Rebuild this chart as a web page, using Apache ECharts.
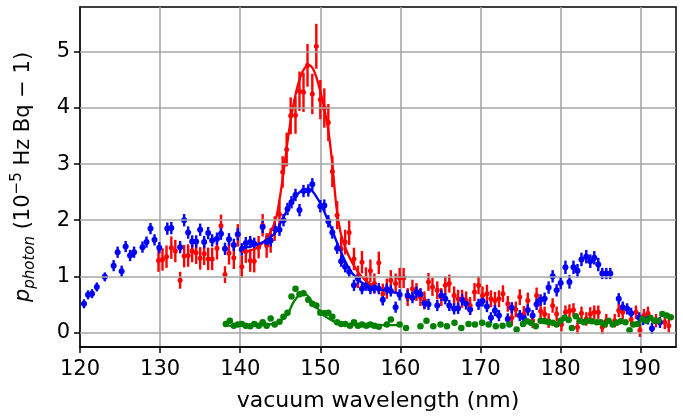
<!DOCTYPE html>
<html><head><meta charset="utf-8">
<script src="https://cdn.jsdelivr.net/npm/echarts@6/dist/echarts.min.js"></script>
<style>html,body{margin:0;padding:0;background:#fff}#c{width:683px;height:416px}</style>
</head><body><div id="c"></div>
<script>
// x tick labels and y tick labels
const xTicks = [120,130,140,150,160,170,180,190];
const yTicks = [0,1,2,3,4,5];

// blue measurements [wavelength, value, error]
const blueData = [
[120.5,0.51,0.08],[121.0,0.67,0.08],[121.5,0.69,0.08],[122.1,0.81,0.08],[123.1,0.99,0.08],[124.2,1.19,0.1],[124.7,1.43,0.1],[125.2,1.09,0.1],[125.7,1.53,0.1],[126.25,1.37,0.1],[126.75,1.43,0.1],[127.8,1.52,0.1],[128.3,1.61,0.1],[128.8,1.85,0.1],[129.3,1.65,0.1],[129.9,1.51,0.1],[130.9,1.85,0.11],[131.4,1.86,0.11],[132.5,1.52,0.11],[133.0,2.0,0.11],[133.5,1.78,0.11],[134.0,1.62,0.11],[134.5,1.62,0.11],[135.0,1.83,0.11],[135.5,1.61,0.11],[136.0,1.77,0.11],[136.5,1.64,0.11],[137.1,1.67,0.11],[137.6,1.76,0.11],[138.1,1.49,0.11],[138.6,1.66,0.11],[139.2,1.56,0.11],[139.7,1.75,0.11],[140.2,1.48,0.11],[140.7,1.59,0.11],[141.25,1.61,0.11],[141.75,1.58,0.11],[142.8,1.88,0.11],[143.3,1.61,0.11],[143.8,1.64,0.11],[144.3,1.85,0.11],[144.9,1.83,0.11],[145.4,2.0,0.11],[145.9,2.2,0.11],[146.4,2.32,0.11],[146.9,2.45,0.11],[147.4,2.18,0.11],[147.9,2.52,0.11],[148.5,2.53,0.11],[149.0,2.64,0.11],[150.0,2.25,0.11],[150.5,2.26,0.11],[151.0,1.98,0.11],[151.5,1.78,0.11],[152.1,1.5,0.1],[152.6,1.27,0.1],[153.1,1.17,0.1],[153.6,1.08,0.1],[154.2,0.84,0.1],[154.7,0.96,0.1],[155.2,0.78,0.1],[155.75,0.84,0.1],[156.25,0.78,0.1],[156.75,0.8,0.1],[157.3,0.78,0.1],[157.8,0.58,0.1],[158.3,0.77,0.1],[158.8,0.74,0.1],[159.4,0.45,0.1],[159.9,0.67,0.1],[160.9,0.66,0.1],[161.5,0.62,0.1],[162.0,0.72,0.1],[162.5,0.68,0.1],[163.0,0.52,0.1],[163.5,0.5,0.1],[164.6,0.48,0.1],[165.1,0.66,0.1],[165.6,0.6,0.1],[166.1,0.48,0.1],[166.7,0.42,0.1],[167.2,0.43,0.1],[167.7,0.58,0.1],[168.2,0.51,0.1],[168.7,0.41,0.1],[169.75,0.5,0.1],[170.25,0.56,0.1],[170.8,0.46,0.1],[171.3,0.26,0.1],[171.8,0.39,0.1],[172.3,0.3,0.1],[173.4,0.24,0.1],[173.9,0.44,0.1],[174.9,0.3,0.1],[175.4,0.26,0.1],[175.9,0.4,0.1],[176.5,0.3,0.1],[177.0,0.5,0.1],[177.5,0.58,0.1],[178.0,0.6,0.11],[178.5,0.8,0.11],[179.0,1.0,0.11],[179.5,0.75,0.11],[180.0,0.88,0.11],[180.6,1.16,0.12],[181.1,0.9,0.12],[181.6,1.16,0.12],[182.1,1.1,0.12],[182.6,1.3,0.12],[183.2,1.35,0.12],[183.7,1.27,0.12],[184.2,1.33,0.12],[184.7,1.21,0.12],[185.2,1.05,0.1],[185.7,1.05,0.1],[186.2,1.05,0.1],[187.25,0.6,0.1],[187.75,0.45,0.1],[188.3,0.42,0.1],[188.8,0.34,0.1],[189.8,0.26,0.1],[190.3,0.23,0.1],[190.9,0.24,0.1],[191.4,0.07,0.1],[192.4,0.18,0.1]
];

// red measurements [wavelength, value, error]
const redData = [
[129.8,1.28,0.2],[130.3,1.3,0.2],[130.8,1.35,0.2],[131.4,1.51,0.2],[131.9,1.45,0.2],[132.5,0.93,0.15],[133.0,1.36,0.2],[133.5,1.37,0.2],[134.0,1.45,0.2],[134.5,1.42,0.2],[135.0,1.32,0.2],[135.5,1.4,0.2],[136.0,1.31,0.2],[136.5,1.31,0.2],[137.1,1.5,0.2],[137.6,1.9,0.2],[138.1,1.03,0.15],[138.6,1.41,0.2],[139.2,1.33,0.2],[139.7,1.73,0.2],[140.2,1.17,0.2],[140.7,1.44,0.2],[141.25,1.28,0.2],[141.75,1.27,0.2],[142.3,1.52,0.2],[142.8,1.91,0.2],[143.3,1.55,0.22],[143.8,1.64,0.22],[144.3,1.85,0.22],[144.9,2.1,0.25],[145.3,2.86,0.28],[145.8,3.26,0.3],[146.3,3.86,0.33],[146.9,3.87,0.33],[147.4,4.3,0.35],[147.9,4.28,0.35],[148.4,4.76,0.38],[149.0,4.25,0.36],[149.5,5.1,0.4],[150.0,4.15,0.35],[150.5,4.0,0.35],[151.0,3.74,0.33],[151.5,2.87,0.28],[152.1,2.09,0.25],[152.6,1.49,0.22],[153.1,1.61,0.22],[153.6,1.78,0.22],[154.2,1.31,0.2],[154.7,0.99,0.2],[155.2,1.25,0.2],[155.7,0.96,0.2],[156.25,1.1,0.2],[156.75,0.87,0.18],[157.3,1.24,0.2],[157.8,0.69,0.18],[158.3,0.78,0.18],[158.8,0.93,0.18],[159.4,0.87,0.18],[159.9,0.97,0.18],[160.4,0.97,0.18],[160.9,0.63,0.16],[161.5,0.78,0.16],[162.0,0.72,0.16],[162.5,0.63,0.16],[163.0,0.57,0.16],[163.5,0.9,0.16],[164.0,0.81,0.16],[164.6,0.75,0.16],[165.1,0.63,0.16],[165.6,0.84,0.16],[166.1,0.87,0.16],[166.7,0.66,0.16],[167.2,0.6,0.16],[167.7,0.6,0.16],[168.2,0.57,0.16],[168.7,0.48,0.15],[169.25,0.72,0.16],[169.75,0.84,0.16],[170.25,0.66,0.16],[170.8,0.69,0.16],[171.3,0.6,0.15],[171.8,0.57,0.15],[172.3,0.6,0.15],[172.8,0.69,0.15],[173.4,0.51,0.14],[173.9,0.26,0.14],[174.4,0.41,0.14],[174.9,0.63,0.14],[175.4,0.33,0.14],[175.9,0.57,0.14],[176.5,0.21,0.13],[177.0,0.66,0.14],[177.5,0.38,0.13],[178.0,0.33,0.13],[178.5,0.21,0.13],[179.0,0.48,0.13],[179.5,0.33,0.13],[180.1,0.14,0.12],[180.6,0.36,0.12],[181.1,0.38,0.12],[181.6,0.4,0.12],[182.1,0.09,0.12],[182.6,0.34,0.12],[183.2,0.24,0.12],[183.7,0.33,0.12],[184.2,0.36,0.12],[184.7,0.36,0.12],[185.2,0.09,0.12],[185.7,0.21,0.12],[186.75,0.21,0.12],[187.25,0.39,0.12],[187.75,0.36,0.12],[188.8,0.23,0.12],[189.4,0.36,0.12],[189.9,0.04,0.12],[190.4,0.3,0.12],[190.9,0.34,0.12],[191.9,0.21,0.12],[193.0,0.18,0.12],[193.5,0.12,0.12]
];

// green measurements [wavelength, value]
const greenData = [
[138.2,0.15],[138.7,0.21],[139.2,0.12],[139.7,0.14],[140.2,0.15],[140.7,0.12],[141.25,0.11],[141.75,0.15],[142.3,0.12],[142.8,0.18],[143.3,0.12],[143.8,0.25],[144.3,0.14],[144.9,0.19],[145.4,0.28],[145.9,0.35],[146.4,0.64],[146.9,0.78],[147.4,0.68],[147.9,0.7],[148.5,0.58],[149.0,0.51],[149.5,0.48],[150.0,0.35],[150.5,0.34],[151.0,0.35],[151.5,0.28],[152.1,0.18],[152.6,0.15],[153.1,0.15],[153.7,0.12],[154.2,0.18],[154.7,0.12],[155.2,0.14],[155.75,0.12],[156.25,0.14],[156.75,0.12],[157.3,0.1],[158.3,0.14],[158.8,0.23],[159.9,0.14],[160.7,0.08],[162.5,0.11],[163.25,0.21],[164.1,0.11],[165.0,0.14],[165.8,0.11],[166.75,0.17],[167.6,0.08],[168.5,0.15],[169.3,0.14],[170.2,0.17],[171.0,0.14],[171.9,0.11],[172.75,0.12],[173.6,0.14],[174.5,0.05],[175.3,0.15],[175.8,0.2],[176.3,0.17],[176.9,0.11],[177.5,0.21],[178.0,0.2],[178.5,0.18],[179.0,0.17],[179.5,0.14],[180.0,0.21],[180.5,0.26],[181.0,0.22],[181.4,0.08],[181.9,0.29],[182.4,0.21],[182.9,0.18],[183.4,0.21],[183.9,0.2],[184.5,0.18],[185.0,0.18],[185.5,0.14],[186.0,0.21],[186.5,0.14],[187.0,0.17],[187.5,0.2],[188.1,0.18],[188.6,0.04],[189.1,0.14],[189.6,0.15],[190.2,0.24],[190.7,0.21],[191.2,0.26],[191.7,0.21],[192.2,0.21],[192.7,0.33],[193.25,0.3],[193.75,0.27]
];

// fitted curves
const redFit = [[140.2,1.43],[141,1.45],[142,1.5],[143,1.62],[143.5,1.72],[144,1.85],[144.5,2.05],[145,2.45],[145.5,2.95],[146,3.5],[146.5,3.95],[147,4.3],[147.5,4.55],[148,4.7],[148.5,4.77],[149,4.72],[149.5,4.55],[150,4.3],[150.5,3.98],[151,3.6],[151.5,3.0],[152,2.25],[152.5,1.8],[153,1.56],[153.5,1.38],[154,1.24],[154.5,1.12],[155,1.02],[155.5,0.95],[156,0.89],[156.5,0.84]];
const blueFit = [[140.0,1.52],[141,1.52],[141.5,1.54],[142,1.56],[143,1.62],[144,1.72],[144.5,1.8],[145,1.94],[145.5,2.08],[146,2.22],[146.5,2.34],[147,2.44],[147.5,2.51],[148,2.55],[148.5,2.56],[149,2.52],[149.5,2.42],[150,2.3],[150.5,2.15],[151,1.98],[151.5,1.82],[152,1.63],[152.5,1.46],[153,1.3],[153.5,1.16],[154,1.05],[154.5,0.98],[155,0.91],[155.5,0.86],[156,0.82],[157,0.78],[158,0.75],[159,0.72],[160,0.7]];
const greenFit = [[138.2,0.12],[140,0.12],[142,0.12],[143,0.13],[144,0.15],[144.5,0.17],[145,0.21],[145.5,0.26],[146,0.34],[146.5,0.5],[147,0.61],[147.5,0.68],[148,0.69],[148.5,0.64],[149,0.53],[149.5,0.45],[150,0.37],[150.5,0.3],[151,0.25],[151.5,0.21],[152,0.18],[152.5,0.16],[153,0.14],[154,0.13],[156,0.13],[158,0.13],[160,0.13]];

const chart = echarts.init(document.getElementById('c'), null, {renderer:'canvas'});
const FONT = 'DejaVu Sans';

function errSeries(data, color, w) {
  return {
    type: 'custom',
    data: data,
    encode: {x: 0, y: 1},
    renderItem: function (params, api) {
      const x = api.value(0), y = api.value(1), e = api.value(2);
      const a = api.coord([x, y - e]), b = api.coord([x, y + e]);
      return {type: 'line', shape: {x1: a[0], y1: a[1], x2: b[0], y2: b[1]},
              style: {stroke: color, lineWidth: w}};
    },
    silent: true
  };
}
function pts(data, color, size) {
  return {type: 'scatter', data: data.map(d => [d[0], d[1]]), symbol: 'circle', symbolSize: size,
          itemStyle: {color: color, opacity: 1}, silent: true};
}
function fit(data, color) {
  return {type: 'line', data: data, showSymbol: false, smooth: 0.3, lineStyle: {color: color, width: 2.3}, silent: true};
}

const gridLineStyle = {color: '#a6a6a6', width: 1.6, type: 'solid'};

chart.setOption({
  animation: false,
  backgroundColor: '#fff',
  grid: {left: 80, right: 7, top: 7, bottom: 69, outerBoundsMode: 'none', containLabel: false,
         show: true, borderColor: '#000', borderWidth: 1.5, backgroundColor: 'transparent'},
  xAxis: {
    type: 'value', min: 120, max: 194.4, interval: 10,
    name: 'vacuum wavelength (nm)', nameLocation: 'middle', nameGap: 43,
    nameTextStyle: {fontFamily: FONT, fontSize: 22, color: '#000'},
    axisLine: {show: true, onZero: false, lineStyle: {color: '#000', width: 1.5}},
    axisTick: {show: true, length: 6, lineStyle: {color: '#000', width: 1.5}, customValues: xTicks},
    axisLabel: {fontFamily: FONT, fontSize: 21, color: '#000', margin: 12, customValues: xTicks},
    splitLine: {show: true, lineStyle: gridLineStyle}
  },
  yAxis: {
    type: 'value', min: -0.26, max: 5.8,
    name: '{p|p}{sub|photon} {t|(10}{sup|−5}{t| Hz Bq − 1)}',
    nameLocation: 'middle', nameRotate: 90, nameGap: 42,
    nameTextStyle: {
      fontFamily: FONT, fontSize: 21, color: '#000',
      rich: {
        p: {fontFamily: FONT, fontSize: 21, fontStyle: 'italic', lineHeight: 28, verticalAlign: 'middle'},
        sub: {fontFamily: FONT, fontSize: 15, fontStyle: 'italic', lineHeight: 28, verticalAlign: 'bottom'},
        t: {fontFamily: FONT, fontSize: 21, lineHeight: 28, verticalAlign: 'middle'},
        sup: {fontFamily: FONT, fontSize: 15, lineHeight: 28, verticalAlign: 'top'}
      }
    },
    axisLine: {show: true, onZero: false, lineStyle: {color: '#000', width: 1.5}},
    axisTick: {show: true, length: 6, lineStyle: {color: '#000', width: 1.5}, customValues: yTicks},
    axisLabel: {fontFamily: FONT, fontSize: 21, color: '#000', margin: 10, customValues: yTicks},
    splitLine: {show: false}
  },
  series: [
    {type: 'line', data: [], silent: true, z: 0,
     markLine: {silent: true, symbol: ['none', 'none'], label: {show: false}, animation: false,
       lineStyle: gridLineStyle, data: yTicks.map(v => ({yAxis: v}))}},
    errSeries(redData, '#ff0000', 2.4),
    pts(redData, '#ff0000', 5),
    fit(redFit, '#ff0000'),
    errSeries(blueData, '#0000ff', 2.4),
    pts(blueData, '#0000ff', 6),
    fit(blueFit, '#0000ff'),
    pts(greenData, '#008000', 6.5),
    fit(greenFit, '#008000')
  ]
});
</script></body></html>
